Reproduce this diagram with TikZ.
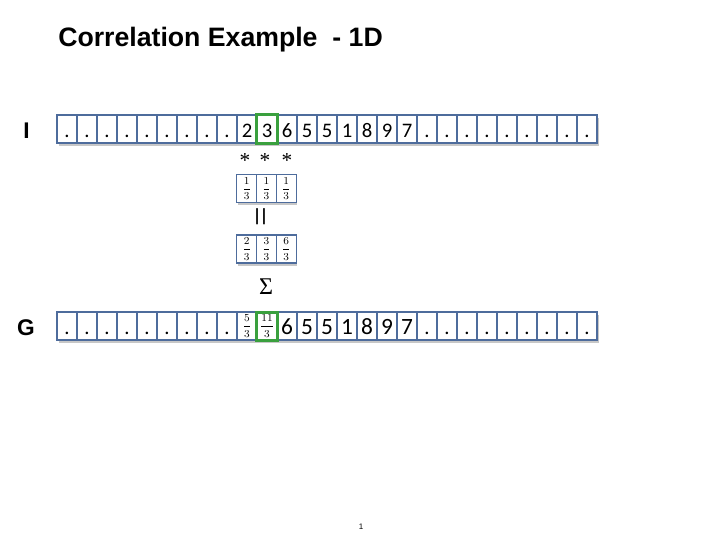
\documentclass[tikz,border=0pt]{standalone}
\usepackage{amsmath}
\usepackage{fontspec}
\setmainfont{Liberation Sans}
\newfontfamily\cellfont{Carlito}
\newfontfamily\seriffont{Liberation Serif}
\definecolor{cellblue}{RGB}{78,108,156}
\definecolor{kgreen}{RGB}{58,160,62}
\tikzset{
  cellbox/.style={draw=cellblue, fill=white, line width=0.8pt, minimum width=15pt, minimum height=21pt, inner sep=0pt},
  shadowbox/.style={fill=black!22, minimum width=15pt, minimum height=21pt, inner sep=0pt},
  celltext/.style={anchor=base, inner sep=0pt, font=\cellfont\fontsize{15.5}{16}\selectfont},
  gtext/.style={anchor=base, inner sep=0pt, font=\cellfont\fontsize{17.5}{18}\selectfont},
  fractext/.style={inner sep=0pt, font=\footnotesize},
  hilite/.style={draw=kgreen, line width=2.3pt, minimum width=16pt, minimum height=21.5pt, inner sep=0pt},
  rowlabel/.style={anchor=base, inner sep=0pt, font=\fontsize{17}{19}\selectfont\bfseries},
  op/.style={inner sep=0pt, font=\seriffont\fontsize{16}{18}\selectfont}
}
\begin{document}
\begin{tikzpicture}[x=0.75pt,y=-0.75pt]
\useasboundingbox (0,0) rectangle (720,540);
% title
\node[anchor=base west, inner sep=0pt, font=\fontsize{20}{22}\selectfont\bfseries] (title) at (58,46) {Correlation Example\ \ - 1D};
% row labels
\node[rowlabel] (lblI) at (26.5,138) {I};
\node[rowlabel] (lblG) at (26,335) {G};
% row I
\foreach \c [count=\k from 0] in {.,.,.,.,.,.,.,.,.,2,3,6,5,5,1,8,9,7,.,.,.,.,.,.,.,.,.}{
  \node[shadowbox] (is\k) at ({68.5+20*\k},131.5) {};
}
\foreach \c [count=\k from 0] in {.,.,.,.,.,.,.,.,.,2,3,6,5,5,1,8,9,7,.,.,.,.,.,.,.,.,.}{
  \node[cellbox] (i\k) at ({67+20*\k},129) {};
  \node[celltext] (it\k) at ({67+20*\k},137.5) {\c};
}
\node[hilite] (ihl) at (267,129) {};
% row G
\foreach \c [count=\k from 0] in {.,.,.,.,.,.,.,.,.,a,b,6,5,5,1,8,9,7,.,.,.,.,.,.,.,.,.}{
  \node[shadowbox] (gs\k) at ({68.5+20*\k},328.5) {};
}
\foreach \c [count=\k from 0] in {.,.,.,.,.,.,.,.,.}{
  \node[cellbox] (g\k) at ({67+20*\k},326) {};
  \node[celltext] (gt\k) at ({67+20*\k},334) {\c};
}
\foreach \c [count=\k from 9] in {,,6,5,5,1,8,9,7}{
  \node[cellbox] (g\k) at ({67+20*\k},326) {};
  \node[gtext] (gt\k) at ({67+20*\k},334) {\c};
}
\foreach \c [count=\k from 18] in {.,.,.,.,.,.,.,.,.}{
  \node[cellbox] (g\k) at ({67+20*\k},326) {};
  \node[celltext] (gt\k) at ({67+20*\k},334) {\c};
}
\node[fractext] (gf9) at (247,326) {$\dfrac{5}{3}$};
\node[fractext] (gf10) at (267,326) {$\dfrac{11}{3}$};
\node[hilite] (ghl) at (267,326.5) {};
% operators
\node[op] (ast1) at (245,161) {*};
\node[op] (ast2) at (265,161) {*};
\node[op] (ast3) at (287,161) {*};
% kernel row
\foreach \f [count=\k from 0] in {1,1,1}{
  \node[shadowbox, minimum width=14.8pt] (ks\k) at ({248+19.7*\k},191) {};
}
\foreach \f [count=\k from 0] in {1,1,1}{
  \node[cellbox, minimum width=14.8pt] (k\k) at ({246.8+19.7*\k},188.5) {};
  \node[fractext] (kt\k) at ({246.8+19.7*\k},188.5) {$\dfrac{\f}{3}$};
}
\node[op, rotate=90, font=\seriffont\fontsize{26}{28}\selectfont] (eq) at (265,217) {=};
% product row
\foreach \f [count=\k from 0] in {2,3,6}{
  \node[shadowbox, minimum width=14.8pt] (ps\k) at ({248+19.7*\k},251.5) {};
}
\foreach \f [count=\k from 0] in {2,3,6}{
  \node[cellbox, minimum width=14.8pt] (p\k) at ({246.8+19.7*\k},249) {};
  \node[fractext] (pt\k) at ({246.8+19.7*\k},249) {$\dfrac{\f}{3}$};
}
\node[op, font=\seriffont\fontsize{18}{20}\selectfont] (sigma) at (266,287) {Σ};
% page number
\node[inner sep=0pt, font=\fontsize{6}{7}\selectfont] (pagenum) at (361,527) {1};
\end{tikzpicture}
\end{document}
